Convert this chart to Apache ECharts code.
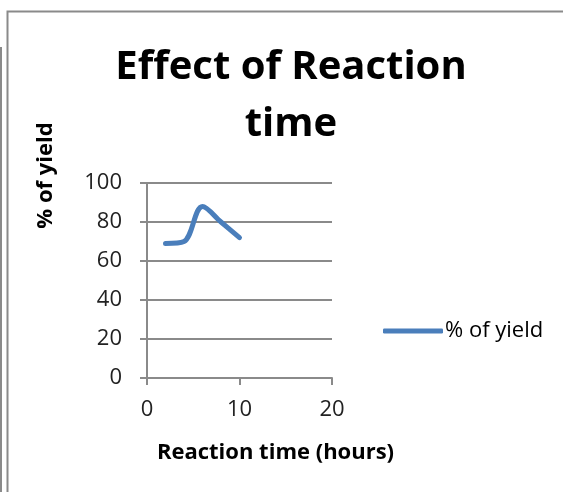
<!DOCTYPE html>
<html><head><meta charset="utf-8">
<script src="https://cdn.jsdelivr.net/npm/echarts@6/dist/echarts.min.js"></script>
<style>html,body{margin:0;padding:0;background:#fff}#c{width:563px;height:492px}</style>
</head><body><div id="c"></div>
<script>
const reactionTime = [2, 4, 6, 8, 10];
const yieldPct = [69, 70, 88, 80, 72];
const xTicks = [0, 10, 20];
const yTicks = [0, 20, 40, 60, 80, 100];
const seriesName = '% of yield';

const FONT = 'Open Sans';
const chart = echarts.init(document.getElementById('c'), null, {renderer: 'canvas'});
chart.setOption({
  backgroundColor: '#fff',
  animation: false,
  title: {
    text: 'Effect of Reaction\ntime',
    left: 291, top: 39, padding: 0, textAlign: 'center',
    textStyle: {fontFamily: FONT, fontWeight: 'bold', fontSize: 40, lineHeight: 57, color: '#000'}
  },
  legend: {
    left: 383, top: 320, padding: 0,
    itemWidth: 60, itemHeight: 5, itemGap: 4,
    icon: 'roundRect',
    textStyle: {fontFamily: FONT, fontSize: 22, color: '#000', padding: [0, 0, 0, -3]},
    data: [seriesName]
  },
  grid: {left: 147, right: 231, top: 183, bottom: 114, outerBoundsMode: 'none', containLabel: false},
  xAxis: {
    type: 'value', min: xTicks[0], max: xTicks[xTicks.length - 1], interval: 10,
    name: 'Reaction time (hours)', nameLocation: 'middle', nameGap: 64,
    nameTextStyle: {fontFamily: FONT, fontWeight: 'bold', fontSize: 22, color: '#000', padding: [0, 0, 0, 72]},
    axisLine: {lineStyle: {color: '#8a8a8a', width: 2}},
    axisTick: {show: true, length: 7, lineStyle: {color: '#8a8a8a', width: 2}},
    axisLabel: {fontFamily: FONT, fontSize: 22, color: '#222', margin: 21},
    splitLine: {show: false}
  },
  yAxis: {
    type: 'value', min: yTicks[0], max: yTicks[yTicks.length - 1], interval: 20,
    name: '% of yield', nameLocation: 'middle', nameGap: 90, nameRotate: 90,
    nameTextStyle: {fontFamily: FONT, fontWeight: 'bold', fontSize: 22, color: '#000', padding: [0, 0, 0, 210]},
    axisLine: {show: true, lineStyle: {color: '#8a8a8a', width: 2}},
    axisTick: {show: true, length: 7, lineStyle: {color: '#8a8a8a', width: 2}},
    axisLabel: {fontFamily: FONT, fontSize: 22, color: '#222', margin: 25},
    splitLine: {show: true, lineStyle: {color: '#8a8a8a', width: 2}}
  },
  series: [{
    name: seriesName, type: 'line', smooth: 0.35,
    data: reactionTime.map((x, i) => [x, yieldPct[i]]),
    showSymbol: false,
    lineStyle: {color: '#4a7ebb', width: 5, cap: 'round'},
    itemStyle: {color: '#4a7ebb'}
  }],
  graphic: [
    {type: 'polyline', shape: {points: [[7.5, 492], [7.5, 11.5], [563, 11.5]]}, style: {stroke: '#8a8a8a', lineWidth: 2, fill: null}},
    {type: 'line', shape: {x1: 1, y1: 47, x2: 1, y2: 492}, style: {stroke: '#8a8a8a', lineWidth: 2}}
  ]
});
</script></body></html>
